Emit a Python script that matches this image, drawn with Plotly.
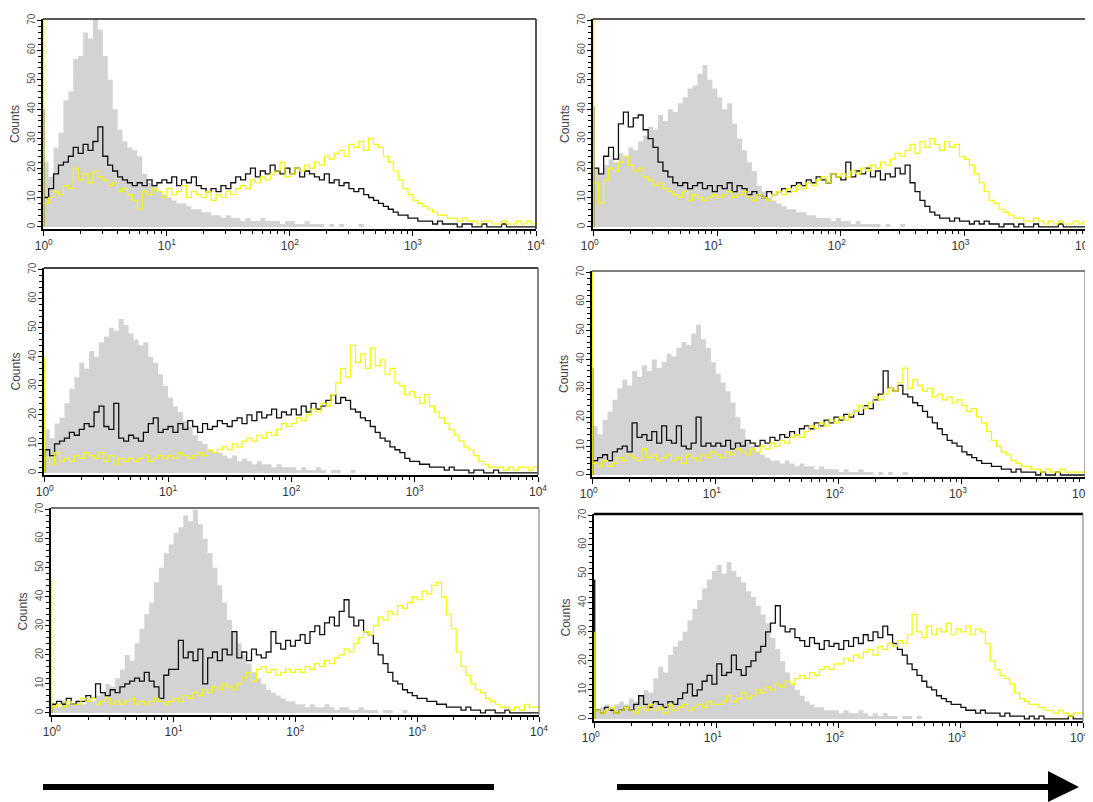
import numpy as np
import plotly.graph_objects as go

W, H = 1093, 802
PAGE_OFFSET = 8  # default body margin of the html page

# instrument channels: 100 log-spaced bins spanning 10^0 .. 10^4
channel_edges = np.logspace(0, 4, 101)

x_tick_vals = [1, 10, 100, 1000, 10000]
x_tick_text = ["10<sup>0</sup>", "10<sup>1</sup>", "10<sup>2</sup>", "10<sup>3</sup>", "10<sup>4</sup>"]
x_minor_vals = [m * 10 ** d for d in range(4) for m in range(2, 10)]
y_tick_vals = [0, 10, 20, 30, 40, 50, 60, 70]
y_tick_text = ["0", "10", "20", "30", "40", "50", "60", "70"]

# ---------------- panel 1 (top left) ----------------
p1_gray = [22, 17, 27, 32, 43, 46, 57, 58, 66, 64, 71, 67, 58, 50, 40, 33, 29, 27, 26, 24, 18, 15, 14, 12, 11,
           10, 9, 8, 8, 7, 6, 6, 5, 5, 4, 4, 3, 4, 3, 3, 2, 3, 2, 2, 3, 2, 2, 2, 1, 2,
           2, 1, 1, 2, 1, 1, 1, 0, 1, 0, 1, 0, 0, 0, 1, 0, 0, 0, 0, 0, 0, 0, 0, 0, 0,
           0, 0, 0, 0, 0, 0, 0, 0, 0, 0, 0, 0, 0, 0, 0, 0, 0, 0, 0, 0, 0, 0, 0, 0, 0]
p1_black = [10, 13, 18, 21, 22, 24, 27, 25, 28, 26, 29, 34, 24, 21, 19, 17, 16, 15, 14, 15, 14, 16, 14, 15, 16,
            15, 17, 14, 16, 15, 17, 14, 13, 12, 13, 12, 14, 13, 15, 17, 16, 18, 20, 17, 19, 18, 21, 19, 18, 20,
            18, 20, 17, 19, 18, 17, 16, 18, 15, 16, 14, 15, 13, 12, 13, 11, 10, 9, 8, 7, 6, 5, 4, 4, 3,
            3, 2, 2, 2, 1, 2, 1, 1, 1, 0, 1, 1, 0, 0, 1, 0, 0, 0, 1, 0, 0, 0, 0, 0, 0]
p1_yellow = [8, 10, 12, 11, 14, 13, 20, 16, 18, 15, 19, 17, 16, 14, 15, 12, 13, 11, 9, 6, 12, 11, 13, 12, 10,
             13, 11, 12, 14, 10, 12, 11, 10, 12, 9, 11, 10, 12, 11, 13, 14, 13, 16, 15, 17, 16, 18, 19, 22, 17,
             18, 20, 19, 21, 20, 22, 21, 24, 23, 25, 26, 24, 28, 27, 29, 26, 30, 28, 27, 24, 22, 19, 16, 13, 11,
             9, 8, 7, 6, 5, 4, 4, 3, 3, 2, 3, 2, 2, 1, 2, 2, 1, 1, 2, 1, 1, 2, 1, 2, 1]

# ---------------- panel 2 (top right) ----------------
p2_gray = [20, 18, 21, 23, 22, 25, 24, 27, 26, 29, 31, 34, 33, 38, 36, 40, 39, 42, 44, 47, 48, 52, 55, 50, 47,
           44, 40, 42, 35, 30, 26, 22, 19, 14, 12, 10, 9, 8, 7, 6, 6, 5, 5, 4, 4, 3, 3, 3, 2, 3,
           2, 2, 1, 2, 1, 1, 1, 1, 0, 1, 0, 0, 1, 0, 0, 0, 0, 0, 0, 0, 0, 0, 0, 0, 0,
           0, 0, 0, 0, 0, 0, 0, 0, 0, 0, 0, 0, 0, 0, 0, 0, 0, 0, 0, 0, 0, 0, 0, 0, 0]
p2_black = [20, 18, 24, 27, 23, 35, 39, 34, 37, 38, 33, 30, 27, 22, 19, 17, 15, 14, 15, 13, 14, 15, 13, 14, 12,
            14, 13, 15, 12, 14, 13, 11, 12, 11, 10, 12, 11, 12, 13, 12, 14, 15, 14, 16, 15, 17, 16, 15, 18, 17,
            16, 22, 17, 19, 18, 20, 17, 19, 16, 18, 17, 20, 18, 21, 15, 12, 9, 7, 5, 4, 3, 3, 2, 3, 2,
            2, 1, 2, 1, 2, 1, 1, 0, 1, 1, 0, 1, 0, 0, 1, 0, 0, 0, 0, 1, 0, 0, 0, 0, 0]
p2_yellow = [15, 8, 16, 20, 19, 22, 24, 21, 19, 20, 17, 16, 14, 15, 13, 12, 11, 10, 12, 9, 11, 10, 9, 10, 11,
             10, 11, 12, 10, 11, 12, 10, 9, 11, 10, 9, 11, 12, 11, 13, 12, 14, 13, 15, 14, 16, 17, 15, 18, 17,
             18, 17, 19, 18, 20, 19, 21, 20, 22, 21, 23, 25, 24, 26, 28, 25, 29, 27, 30, 28, 26, 29, 27, 28, 24,
             23, 21, 18, 15, 12, 9, 8, 6, 5, 4, 3, 3, 2, 2, 3, 2, 1, 2, 1, 2, 1, 1, 2, 1, 2]

# ---------------- panel 3 (middle left) ----------------
p3_gray = [15, 12, 17, 19, 24, 29, 33, 38, 36, 42, 40, 45, 47, 50, 49, 53, 51, 48, 46, 44, 45, 40, 38, 34, 30,
           26, 23, 21, 18, 16, 13, 11, 10, 8, 7, 7, 6, 5, 6, 4, 5, 4, 3, 4, 3, 3, 2, 3, 2, 2,
           2, 1, 2, 1, 1, 2, 1, 0, 1, 1, 0, 0, 1, 0, 0, 0, 0, 0, 0, 0, 0, 0, 0, 0, 0,
           0, 0, 0, 0, 0, 0, 0, 0, 0, 0, 0, 0, 0, 0, 0, 0, 0, 0, 0, 0, 0, 0, 0, 0, 0]
p3_black = [8, 6, 10, 11, 12, 14, 13, 15, 17, 16, 21, 23, 16, 15, 24, 12, 11, 13, 12, 11, 14, 17, 19, 14, 15,
            16, 14, 17, 15, 18, 16, 14, 17, 15, 16, 18, 17, 16, 18, 19, 17, 20, 18, 21, 19, 20, 22, 19, 21, 20,
            22, 20, 23, 21, 24, 22, 23, 25, 27, 24, 26, 25, 22, 21, 19, 18, 16, 14, 12, 11, 9, 8, 7, 5, 4,
            4, 3, 3, 2, 2, 2, 1, 2, 1, 1, 1, 0, 1, 1, 0, 0, 1, 0, 0, 0, 0, 0, 0, 0, 0]
p3_yellow = [5, 3, 7, 4, 5, 4, 6, 5, 7, 6, 5, 7, 4, 6, 3, 5, 4, 5, 4, 5, 6, 4, 5, 6, 5,
             6, 5, 7, 6, 5, 6, 7, 6, 8, 7, 8, 9, 8, 10, 9, 11, 12, 11, 13, 12, 14, 13, 15, 17, 16,
             17, 19, 18, 20, 22, 21, 24, 23, 27, 31, 36, 33, 44, 38, 41, 36, 43, 37, 39, 34, 36, 31, 30, 27, 28,
             26, 24, 27, 23, 21, 19, 17, 15, 13, 11, 9, 8, 6, 4, 3, 2, 2, 2, 1, 2, 1, 2, 2, 1, 2]

# ---------------- panel 4 (middle right) ----------------
p4_gray = [17, 14, 19, 22, 26, 30, 33, 31, 36, 34, 38, 36, 40, 37, 39, 42, 41, 44, 46, 45, 49, 52, 47, 44, 39,
           35, 32, 29, 25, 20, 16, 12, 10, 8, 7, 6, 5, 5, 4, 5, 4, 3, 4, 3, 3, 2, 3, 2, 2, 2,
           1, 2, 1, 1, 2, 1, 1, 0, 1, 0, 1, 0, 0, 1, 0, 0, 0, 0, 0, 0, 0, 0, 0, 0, 0,
           0, 0, 0, 0, 0, 0, 0, 0, 0, 0, 0, 0, 0, 0, 0, 0, 0, 0, 0, 0, 0, 0, 0, 0, 0]
p4_black = [5, 6, 7, 5, 8, 9, 10, 8, 18, 13, 14, 12, 15, 11, 17, 12, 11, 17, 10, 9, 11, 20, 10, 11, 10,
            11, 10, 12, 9, 11, 10, 12, 11, 10, 12, 11, 13, 12, 14, 13, 15, 14, 16, 17, 16, 18, 17, 19, 18, 20,
            19, 21, 20, 22, 21, 24, 23, 26, 28, 36, 30, 29, 31, 28, 27, 25, 24, 22, 20, 18, 16, 14, 12, 11, 10,
            8, 7, 6, 5, 4, 4, 3, 3, 2, 2, 1, 2, 1, 1, 1, 0, 1, 0, 0, 1, 0, 0, 0, 0, 0]
p4_yellow = [4, 3, 5, 3, 4, 6, 5, 7, 6, 5, 9, 6, 7, 5, 6, 7, 5, 6, 4, 7, 6, 5, 7, 6, 8,
             7, 6, 8, 7, 9, 8, 7, 9, 8, 10, 9, 11, 10, 12, 11, 13, 14, 13, 15, 17, 16, 18, 17, 19, 18,
             20, 19, 21, 22, 24, 23, 25, 27, 26, 28, 30, 29, 32, 37, 30, 33, 31, 29, 30, 27, 28, 26, 27, 25, 26,
             24, 22, 23, 20, 18, 15, 12, 10, 8, 7, 5, 4, 3, 3, 2, 2, 1, 2, 1, 1, 2, 1, 1, 1, 1]

# ---------------- panel 5 (bottom left) ----------------
p5_gray = [3, 2, 4, 3, 3, 4, 3, 5, 4, 6, 7, 10, 9, 12, 15, 20, 18, 24, 29, 34, 38, 45, 50, 55, 58,
           62, 64, 68, 66, 70, 65, 60, 55, 50, 44, 38, 32, 28, 24, 20, 17, 14, 12, 10, 8, 7, 6, 5, 4, 4,
           3, 3, 2, 3, 2, 2, 3, 2, 1, 2, 2, 1, 1, 2, 1, 1, 1, 0, 1, 1, 0, 0, 1, 0, 0,
           0, 0, 0, 0, 0, 0, 0, 0, 0, 0, 0, 0, 0, 0, 0, 0, 0, 0, 0, 0, 0, 0, 0, 0, 0]
p5_black = [3, 4, 3, 5, 3, 4, 4, 6, 5, 10, 7, 6, 8, 7, 9, 10, 11, 12, 11, 14, 11, 9, 5, 13, 15,
            15, 25, 19, 21, 18, 22, 10, 19, 21, 18, 22, 20, 28, 19, 21, 18, 22, 20, 19, 21, 28, 24, 22, 25, 23,
            25, 27, 24, 28, 30, 27, 31, 33, 30, 35, 39, 33, 30, 32, 28, 27, 24, 20, 17, 14, 11, 10, 8, 7, 6,
            5, 5, 4, 4, 3, 3, 2, 2, 2, 1, 2, 1, 1, 0, 1, 1, 0, 0, 1, 0, 0, 0, 0, 0, 0]
p5_yellow = [2, 3, 2, 4, 3, 3, 5, 4, 5, 3, 4, 5, 3, 4, 3, 4, 5, 3, 4, 3, 4, 5, 4, 3, 4,
             5, 4, 6, 5, 7, 6, 8, 7, 9, 8, 10, 9, 8, 10, 12, 14, 11, 15, 16, 14, 15, 13, 14, 15, 14,
             15, 14, 16, 15, 17, 16, 18, 17, 19, 20, 22, 21, 24, 26, 28, 27, 30, 33, 32, 35, 34, 37, 36, 38, 40,
             39, 42, 41, 44, 45, 40, 34, 29, 21, 16, 13, 10, 8, 7, 5, 4, 3, 2, 2, 1, 2, 1, 3, 2, 2]

# ---------------- panel 6 (bottom right) ----------------
p6_gray = [3, 4, 5, 4, 5, 6, 5, 7, 6, 8, 10, 9, 14, 18, 16, 22, 25, 27, 30, 34, 38, 41, 45, 48, 51,
           53, 50, 54, 51, 49, 47, 44, 42, 39, 36, 33, 28, 24, 20, 16, 12, 10, 8, 6, 5, 4, 4, 3, 3, 3,
           2, 3, 2, 2, 3, 2, 1, 2, 1, 2, 1, 1, 0, 1, 1, 0, 1, 0, 0, 0, 0, 0, 0, 0, 0,
           0, 0, 0, 0, 0, 0, 0, 0, 0, 0, 0, 0, 0, 0, 0, 0, 0, 0, 0, 0, 0, 0, 0, 0, 0]
p6_black = [3, 2, 4, 3, 2, 3, 4, 3, 5, 8, 5, 4, 6, 5, 4, 6, 5, 7, 9, 12, 8, 10, 13, 15, 12,
            19, 15, 16, 22, 17, 15, 18, 20, 23, 25, 30, 33, 39, 32, 30, 31, 28, 27, 25, 28, 26, 24, 27, 25, 26,
            24, 27, 25, 28, 26, 29, 27, 30, 28, 32, 29, 26, 24, 22, 19, 17, 15, 13, 11, 10, 8, 7, 6, 5, 5,
            4, 3, 3, 2, 3, 2, 2, 2, 1, 2, 1, 1, 1, 0, 1, 0, 1, 0, 0, 0, 0, 0, 1, 0, 0]
p6_yellow = [3, 2, 3, 4, 2, 3, 4, 3, 2, 4, 3, 5, 3, 4, 2, 5, 3, 4, 5, 3, 4, 5, 4, 6, 5,
             5, 6, 8, 6, 7, 9, 7, 8, 10, 9, 11, 10, 12, 11, 13, 12, 14, 15, 14, 16, 15, 17, 18, 17, 19,
             19, 21, 20, 22, 21, 23, 24, 22, 25, 24, 26, 25, 27, 26, 29, 36, 30, 28, 32, 29, 31, 30, 33, 29, 31,
             30, 32, 29, 31, 30, 26, 20, 17, 15, 14, 12, 9, 7, 6, 5, 5, 4, 3, 3, 2, 3, 2, 1, 2, 2]

# pile-up counts in the lowest channel (drawn as spikes on the left axis)
edge_gray = [43, 42, 38, 42, 0, 0]
edge_black = [40, 41, 0, 37, 0, 48]
edge_yellow = [75, 75, 40, 75, 46, 30]

grays = [p1_gray, p2_gray, p3_gray, p4_gray, p5_gray, p6_gray]
blacks = [p1_black, p2_black, p3_black, p4_black, p5_black, p6_black]
yellows = [p1_yellow, p2_yellow, p3_yellow, p4_yellow, p5_yellow, p6_yellow]
for s in grays + blacks + yellows:
    assert len(s) == 100, len(s)

# panel placement in screen pixels: (left, right, top, bottom)
panel_px = [(43, 536, 19, 229), (593, 1088, 19, 229),
            (44, 538, 268, 475), (592, 1085, 271, 477),
            (51, 539, 508, 715), (594, 1083, 514, 721)]
# horizontal nudge of the x tick labels (px)
label_shift = [0, -4, 0, -4, 0, -4]
# frame (top, right) colours / widths
frame_style = [(("#222", 1.5), ("#222", 1.5)), (("#222", 1.3), ("#777", 1.2)),
               (("#444", 2.0), ("#666", 1.6)), (("#555", 1.5), ("#777", 1.2)),
               (("#444", 1.5), ("#888", 1.2)), (("#000", 2.6), ("#888", 1.2))]

GRAY = "#d3d3d3"
BLACK = "#111111"
YELLOW = "#f6f600"
FONT = "Liberation Sans, Arial, sans-serif"


def px(x):
    return (x - PAGE_OFFSET) / W


def py(y):
    return 1 - (y - PAGE_OFFSET) / H


def step_xy(vals, edge):
    xs = [channel_edges[0], channel_edges[0]] + list(channel_edges[:-1]) + [channel_edges[-1]]
    ys = [0, edge] + list(vals) + [vals[-1]]
    return xs, ys


fig = go.Figure()
layout = dict(width=W, height=H, margin=dict(l=0, r=0, t=0, b=0, autoexpand=False),
              template="none",
              paper_bgcolor="white", plot_bgcolor="white", showlegend=False,
              font=dict(family=FONT, color="#444"))
shapes = []

for k in range(6):
    n = "" if k == 0 else str(k + 1)
    xr, yr = "x" + n, "y" + n
    xs, ys = step_xy(grays[k], edge_gray[k])
    fig.add_trace(go.Scatter(x=xs, y=ys, xaxis=xr, yaxis=yr, mode="lines",
                             line=dict(shape="hv", width=0, color=GRAY),
                             fill="tozeroy", fillcolor=GRAY, hoverinfo="skip"))
    xs, ys = step_xy(blacks[k], edge_black[k])
    fig.add_trace(go.Scatter(x=xs, y=ys, xaxis=xr, yaxis=yr, mode="lines",
                             line=dict(shape="hv", width=1.3, color=BLACK)))
    xs, ys = step_xy(yellows[k], edge_yellow[k])
    fig.add_trace(go.Scatter(x=xs, y=ys, xaxis=xr, yaxis=yr, mode="lines",
                             line=dict(shape="hv", width=1.2, color=YELLOW)))

    l, r, t, b = panel_px[k]
    layout["xaxis" + n] = dict(
        domain=[px(l), px(r)], anchor=yr, type="log", range=[-0.006, 4.0],
        automargin=False, ticklabelshift=label_shift[k],
        tickmode="array", tickvals=x_tick_vals, ticktext=x_tick_text,
        ticks="outside", ticklen=5, tickwidth=1.4, tickcolor="black",
        showline=True, linecolor="black", linewidth=2, showgrid=False, zeroline=False,
        tickfont=dict(size=12, color="#333", family=FONT), layer="below traces",
        minor=dict(tickmode="array", tickvals=x_minor_vals, ticks="outside",
                   ticklen=3, tickwidth=1.1, tickcolor="black", showgrid=False))
    layout["yaxis" + n] = dict(
        domain=[py(b), py(t)], anchor=xr, range=[-0.7, 70.6],
        automargin=False, ticklabelstandoff=-2,
        tickmode="array", tickvals=y_tick_vals, ticktext=y_tick_text, tickangle=-90,
        ticks="outside", ticklen=4, tickwidth=1.4, tickcolor="black",
        showline=True, linecolor="black", linewidth=2, showgrid=False, zeroline=False,
        tickfont=dict(size=10, color="#555", family=FONT), layer="below traces",
        title=dict(text="Counts", font=dict(size=12, color="#444", family=FONT), standoff=4),
        minor=dict(dtick=2, ticks="outside", ticklen=3, tickwidth=1.1,
                   tickcolor="black", showgrid=False))
    (tc, tw), (rc, rw) = frame_style[k]
    shapes.append(dict(type="line", xref=xr + " domain", yref=yr + " domain",
                       x0=0, x1=1, y0=1, y1=1, line=dict(color=tc, width=tw)))
    shapes.append(dict(type="line", xref=xr + " domain", yref=yr + " domain",
                       x0=1, x1=1, y0=0, y1=1, line=dict(color=rc, width=rw)))

# bottom bar and arrow
shapes.append(dict(type="rect", xref="paper", yref="paper", x0=px(43), x1=px(494),
                   y0=py(790), y1=py(784), fillcolor="black", line=dict(width=0)))
shapes.append(dict(type="rect", xref="paper", yref="paper", x0=px(617), x1=px(1050),
                   y0=py(790), y1=py(784), fillcolor="black", line=dict(width=0)))
shapes.append(dict(type="path", xref="paper", yref="paper",
                   path=f"M {px(1048)},{py(771)} L {px(1079)},{py(787)} L {px(1048)},{py(802)} Z",
                   fillcolor="black", line=dict(width=0)))

layout["shapes"] = shapes
fig.update_layout(**layout)
fig.write_html("out.html")
